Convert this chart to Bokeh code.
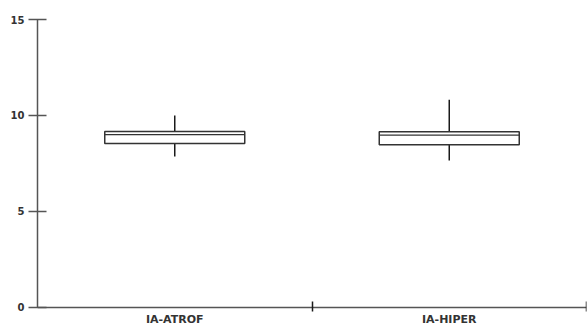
from bokeh.plotting import figure
from bokeh.models import Range1d, FixedTicker, ColumnDataSource, LinearAxis
from bokeh.embed import file_html
from bokeh.resources import INLINE

categories = ["IA-ATROF", "IA-HIPER"]
q1 = [8.54, 8.48]
median = [9.0, 8.98]
q3 = [9.17, 9.15]
whisker_low = [7.86, 7.65]
whisker_high = [10.0, 10.82]
y_ticks = [0, 5, 10, 15]

pos = [i + 0.5 for i in range(len(categories))]
box_w = 0.51
src = ColumnDataSource(dict(
    x=pos, q1=q1, med=median, q3=q3, lo=whisker_low, hi=whisker_high,
    xl=[p - box_w / 2 for p in pos], xr=[p + box_w / 2 for p in pos],
))

p = figure(width=587, height=326, output_backend="svg", toolbar_location=None,
           x_range=Range1d(0, len(categories)), y_range=Range1d(-0.99, 15),
           x_axis_location=None,
           min_border_left=37, min_border_right=1, min_border_top=19, min_border_bottom=0)
p.outline_line_color = None
p.grid.visible = False
p.background_fill_color = "white"

line_col = "#333333"
# whiskers
p.segment(x0="x", x1="x", y0="q3", y1="hi", source=src, line_color="#1a1a1a", line_width=1.5)
p.segment(x0="x", x1="x", y0="lo", y1="q1", source=src, line_color="#1a1a1a", line_width=1.5)
# boxes
p.vbar(x="x", width=box_w, top="q3", bottom="q1", source=src, fill_color="white",
       line_color=line_col, line_width=1.5)
# medians
p.segment(x0="xl", x1="xr", y0="med", y1="med", source=src, line_color=line_col, line_width=1.2)

# x axis at y = 0: labels at category centres, ticks at category boundaries
xa = LinearAxis(fixed_location=0)
xa.ticker = FixedTicker(ticks=pos, minor_ticks=[1, 2])
xa.major_label_overrides = {pos[i]: categories[i] for i in range(len(categories))}
xa.major_tick_line_color = None
xa.major_tick_in = 0
xa.major_tick_out = 0
xa.minor_tick_in = 6
xa.minor_tick_out = 4
xa.minor_tick_line_color = "#1a1a1a"
xa.minor_tick_line_width = 1.5
xa.axis_line_color = "#555555"
xa.axis_line_width = 1.5
xa.major_label_text_font = "DejaVu Sans"
xa.major_label_text_font_style = "bold"
xa.major_label_text_font_size = "11px"
xa.major_label_text_color = "#333333"
xa.major_label_standoff = 2
p.add_layout(xa, "below")

# y axis
ya = p.yaxis[0]
ya.ticker = FixedTicker(ticks=y_ticks)
ya.bounds = (0, 15)
ya.major_tick_in = 9
ya.major_tick_out = 9
ya.major_tick_line_color = "#555555"
ya.major_tick_line_width = 1.5
ya.minor_tick_line_color = None
ya.axis_line_color = "#555555"
ya.axis_line_width = 1.5
ya.major_label_text_font = "DejaVu Sans"
ya.major_label_text_font_style = "bold"
ya.major_label_text_font_size = "10px"
ya.major_label_text_color = "#333333"
ya.major_label_standoff = 4

open("out.html", "w").write(file_html(p, INLINE))
